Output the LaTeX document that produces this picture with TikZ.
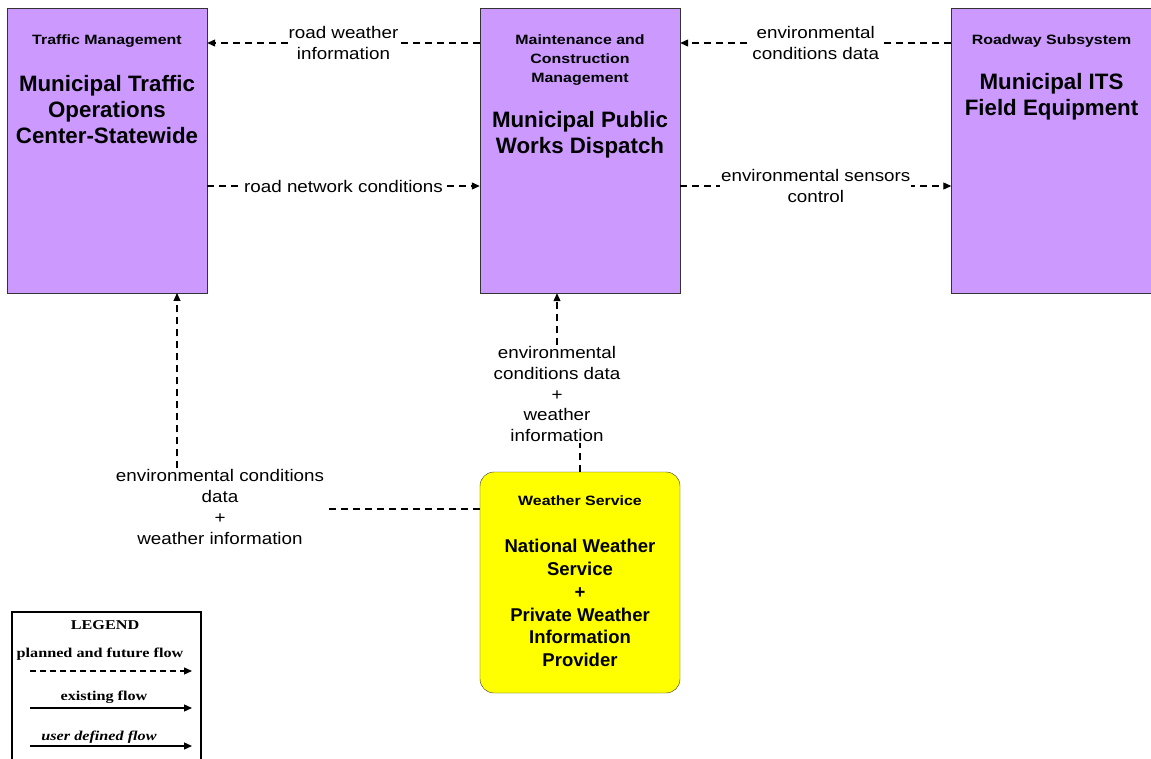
\documentclass[tikz,border=0pt]{standalone}
\usepackage{fontspec}
\setmainfont{Liberation Sans}
\newfontfamily\labelfont[FakeStretch=1.12]{Liberation Sans}
\newfontfamily\headfont[FakeStretch=1.18]{Liberation Sans}
\newfontfamily\legendfont[FakeStretch=1.2]{Liberation Serif}
\usetikzlibrary{arrows.meta,positioning}
\definecolor{boxpurple}{HTML}{CC99FF}
\definecolor{wsyellow}{HTML}{FFFF00}

\begin{document}
\begin{tikzpicture}[x=1pt,y=-1pt]
\tikzset{
  sysbox/.style={draw=black!80,fill=boxpurple,minimum width=200pt,minimum height=285pt,inner sep=0pt},
  wsbox/.style={draw=black!80,fill=wsyellow,rounded corners=14pt,minimum width=200pt,minimum height=221pt,inner sep=0pt},
  header/.style={align=center,font=\headfont\fontsize{13.5}{19}\selectfont\bfseries},
  title/.style={align=center,font=\fontsize{22.3}{26}\selectfont\bfseries},
  wstitle/.style={align=center,font=\fontsize{18.5}{22.8}\selectfont\bfseries},
  flowlabel/.style={align=center,fill=white,inner sep=1pt,font=\labelfont\fontsize{16.8}{20.8}\selectfont},
  planned/.style={line width=1.1pt,dash pattern=on 7pt off 5pt},
  flowarrow/.style={-{Triangle[length=8pt,width=7pt]}},
  legendtext/.style={font=\legendfont\fontsize{13.5}{15}\selectfont\bfseries}
}
\useasboundingbox (0,0) rectangle (1151,759);
% systems
\node[sysbox] (n_tm) at (107,150.5) {};
\node[sysbox] (n_mpw) at (580,150.5) {};
\node[sysbox] (n_rs) at (1051.5,150.5) {};
\node[wsbox] (n_ws) at (580,582.5) {};
\node[header] (h_tm) at (107,41) {Traffic Management};
\node[title] (t_tm) at (107,110) {Municipal Traffic\\Operations\\Center-Statewide};
\node[header] (h_mpw) at (580,60) {Maintenance and\\Construction\\Management};
\node[title] (t_mpw) at (580,135) {Municipal Public\\Works Dispatch};
\node[header] (h_rs) at (1051.5,41) {Roadway Subsystem};
\node[title] (t_rs) at (1051.5,97) {Municipal ITS\\Field Equipment};
\node[header] (h_ws) at (580,501) {Weather Service};
\node[wstitle] (t_ws) at (580,603) {National Weather\\Service\\+\\Private Weather\\Information\\Provider};
% flows between the top boxes
\draw[planned,flowarrow] (n_mpw.west |- 0,43) -- node[flowlabel] (l_rwi) {road weather\\information} (n_tm.east |- 0,43);
\draw[planned,flowarrow] (n_rs.west |- 0,43) -- node[flowlabel] (l_ecd) {environmental\\conditions data} (n_mpw.east |- 0,43);
\draw[planned,flowarrow] (n_tm.east |- 0,186) -- node[flowlabel] (l_rnc) {road network conditions} (n_mpw.west |- 0,186);
\draw[planned,flowarrow] (n_mpw.east |- 0,186) -- node[flowlabel] (l_esc) {environmental sensors\\control} (n_rs.west |- 0,186);
% flows from the weather service
\node[flowlabel] (l_mpw) at (557,394) {environmental\\conditions data\\+\\weather\\information};
\node[flowlabel] (l_tm) at (220,507) {environmental conditions\\data\\+\\weather information};
\coordinate (c_tmin) at (177,293);
\draw[planned] (n_ws.north) -- (n_ws.north |- l_mpw.south);
\draw[planned,flowarrow] (l_mpw.north) -- (l_mpw.north |- n_mpw.south);
\draw[planned] (n_ws.west |- 0,509) -- (l_tm.east |- 0,509);
\draw[planned,flowarrow] (l_tm.north -| c_tmin) -- (c_tmin);
% legend
\node[draw,line width=1.5pt,minimum width=189pt,minimum height=160pt,anchor=north west,inner sep=0pt] (n_legend) at (11,611) {};
\node[legendtext] (lg_title) at (105,625) {LEGEND};
\node[legendtext] (lg_planned) at (100,654) {planned and future flow};
\node[legendtext] (lg_existing) at (104,697) {existing flow};
\node[legendtext,font=\legendfont\fontsize{13.5}{15}\selectfont\bfseries\itshape] (lg_user) at (99,737) {user defined flow};
\coordinate (lp_a) at (30,671);
\coordinate (lp_b) at (192,671);
\coordinate (le_a) at (30,708);
\coordinate (le_b) at (192,708);
\coordinate (lu_a) at (30,746);
\coordinate (lu_b) at (192,746);
\draw[flowarrow,line width=1.3pt,dash pattern=on 6pt off 4pt] (lp_a) -- (lp_b);
\draw[flowarrow,line width=1.3pt] (le_a) -- (le_b);
\draw[flowarrow,line width=1.3pt] (lu_a) -- (lu_b);
\end{tikzpicture}
\end{document}
